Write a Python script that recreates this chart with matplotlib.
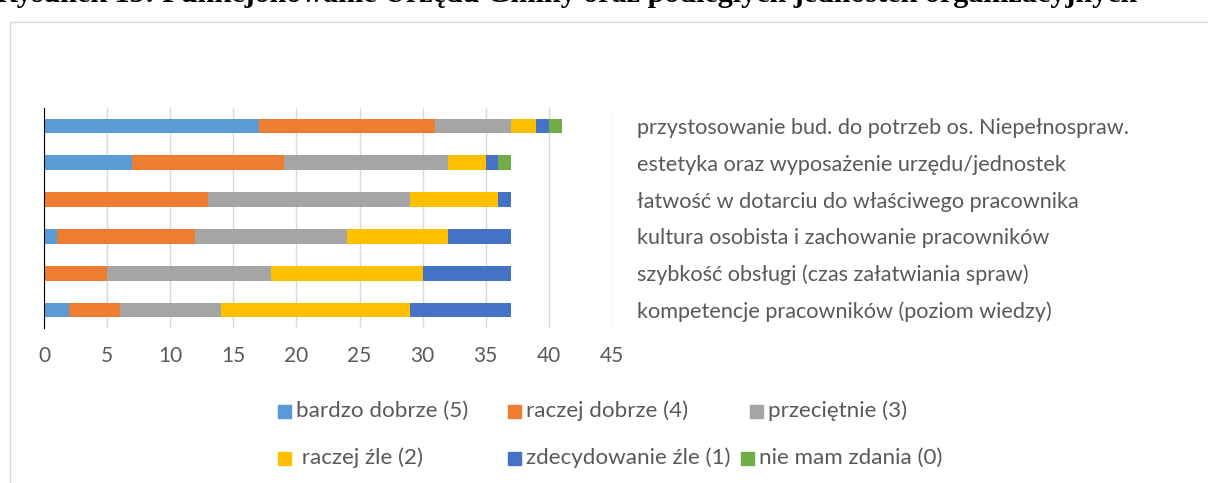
import numpy as np
import matplotlib
matplotlib.use("Agg")
from matplotlib import pyplot as plt
from matplotlib.patches import Rectangle

# categories from bottom to top (as the chart stacks them)
categories = [
    "kompetencje pracowników (poziom wiedzy)",
    "szybkość obsługi (czas załatwiania spraw)",
    "kultura osobista i zachowanie pracowników",
    "łatwość w dotarciu do właściwego pracownika",
    "estetyka oraz wyposażenie urzędu/jednostek",
    "przystosowanie bud. do potrzeb os. Niepełnospraw.",
]
series_names = ["bardzo dobrze (5)", "raczej dobrze (4)", "przeciętnie (3)",
                " raczej źle (2)", "zdecydowanie źle (1)", "nie mam zdania (0)"]
bardzo_dobrze = [2, 0, 1, 0, 7, 17]
raczej_dobrze = [4, 5, 11, 13, 12, 14]
przecietnie = [8, 13, 12, 16, 13, 6]
raczej_zle = [15, 12, 8, 7, 3, 2]
zdecydowanie_zle = [8, 7, 5, 1, 1, 1]
nie_mam_zdania = [0, 0, 0, 0, 1, 1]
x_ticks = [0, 5, 10, 15, 20, 25, 30, 35, 40, 45]

colors = ["#5B9BD5", "#ED7D31", "#A5A5A5", "#FFC000", "#4472C4", "#70AD47"]
txt = "#595959"
plt.rcParams['font.family'] = ['Lato', 'DejaVu Sans']

fig = plt.figure(figsize=(12.08, 4.83), dpi=100)
W, H = 1208, 483

# chart frame
fig.patches.append(Rectangle((10 / W, -0.1), 1.2, 1 - 22 / H + 0.1, transform=fig.transFigure,
                             fill=False, edgecolor="#D9D9D9", linewidth=1))
# title, cut off at top
fig.text(-0.003, 1 - 2 / H, "Rysunek 15: Funkcjonowanie Urzędu Gminy oraz podległych jednostek organizacyjnych",
         family="Liberation Serif", fontweight="bold", fontsize=21.7, va="baseline", ha="left")

ax = fig.add_axes([44 / W, 1 - 328.4 / H, 568 / W, 220.8 / H])
y = np.arange(len(categories))
data = [bardzo_dobrze, raczej_dobrze, przecietnie, raczej_zle, zdecydowanie_zle, nie_mam_zdania]
left = np.zeros(len(categories))
for vals, c in zip(data, colors):
    ax.barh(y, vals, left=left, height=0.4, color=c, zorder=3)
    left += np.array(vals)

ax.set_xlim(0, 45)
ax.set_ylim(-0.5, 5.5)
ax.set_xticks(x_ticks)
ax.set_yticks(y)
ax.set_yticklabels(categories)
ax.yaxis.tick_right()
ax.tick_params(axis="y", length=0, pad=18, labelsize=15.6, labelcolor=txt)
ax.tick_params(axis="x", length=0, pad=13, labelsize=15, labelcolor=txt)
ax.grid(axis="x", color="#D9D9D9", linewidth=1, zorder=0)
for s in ["top", "right", "bottom"]:
    ax.spines[s].set_visible(False)
ax.spines["left"].set_color("black")
ax.spines["left"].set_zorder(4)

# legend, placed like the Excel flow layout
leg_pos = [(278, 411), (508, 411), (750, 411), (278, 458), (508, 458), (741, 458)]
for (px, py), name, c in zip(leg_pos, series_names, colors):
    fig.patches.append(Rectangle((px / W, 1 - (py + 7) / H), 13 / W, 13 / H,
                                 transform=fig.transFigure, color=c))
    fig.text((px + 18) / W, 1 - py / H, name, fontsize=16.1, color=txt, va="center", ha="left")

fig.savefig("out.png", dpi=100)
